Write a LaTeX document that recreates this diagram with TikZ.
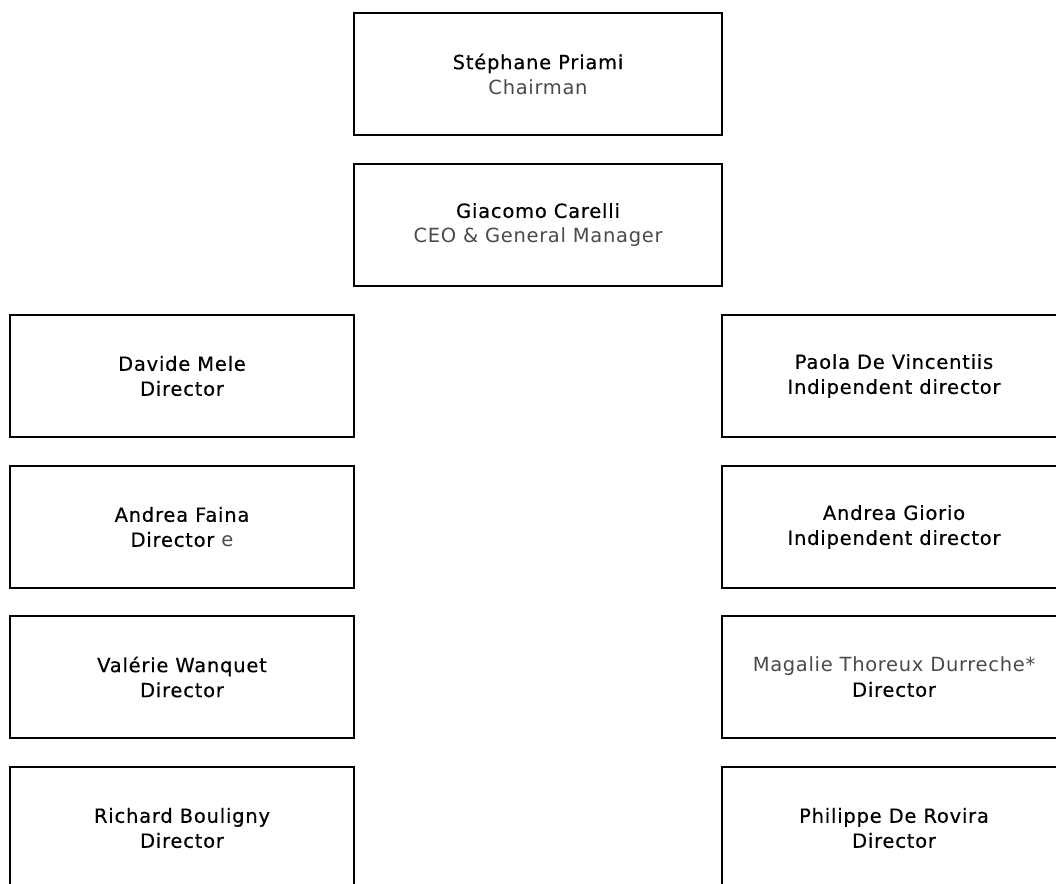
\documentclass[tikz,border=0pt]{standalone}
\usepackage{fontspec}
\setmainfont{DejaVu Sans}[LetterSpace=4,FakeBold=0.4]
\newfontfamily\lightfont{DejaVu Sans}[LetterSpace=3.5]
\definecolor{rolegray}{HTML}{4A4A4A}
\begin{document}
\begin{tikzpicture}[x=1pt,y=-1pt,
  card/.style={draw=black,line width=2pt,minimum width=#1,minimum height=122pt,
    inner sep=0pt,align=center,font=\fontsize{19.5}{25}\selectfont,text=black},
  card/.default=344pt]
\useasboundingbox (0,0) rectangle (1056,883);
\clip (0,0) rectangle (1056,883);
\node[card=368pt] (chair) at (538,74) {Stéphane Priami\\{\lightfont\color{rolegray}Chairman}};
\node[card=368pt] (ceo) at (538,225) {Giacomo Carelli\\{\lightfont\color{rolegray}CEO \& General Manager}};
\node[card] (mele) at (182,376) {Davide Mele\\Director};
\node[card] (faina) at (182,527) {Andrea Faina\\Director {\lightfont\color{rolegray}e}};
\node[card] (wanquet) at (182,677) {Valérie Wanquet\\Director};
\node[card] (bouligny) at (182,828) {Richard Bouligny\\Director};
\node[card] (vincentiis) at (894,376) {Paola De Vincentiis\\Indipendent director};
\node[card] (giorio) at (894,527) {Andrea Giorio\\Indipendent director};
\node[card] (thoreux) at (894,677) {{\lightfont\color{rolegray}Magalie Thoreux Durreche*}\\Director};
\node[card] (rovira) at (894,828) {Philippe De Rovira\\Director};
\end{tikzpicture}
\end{document}
